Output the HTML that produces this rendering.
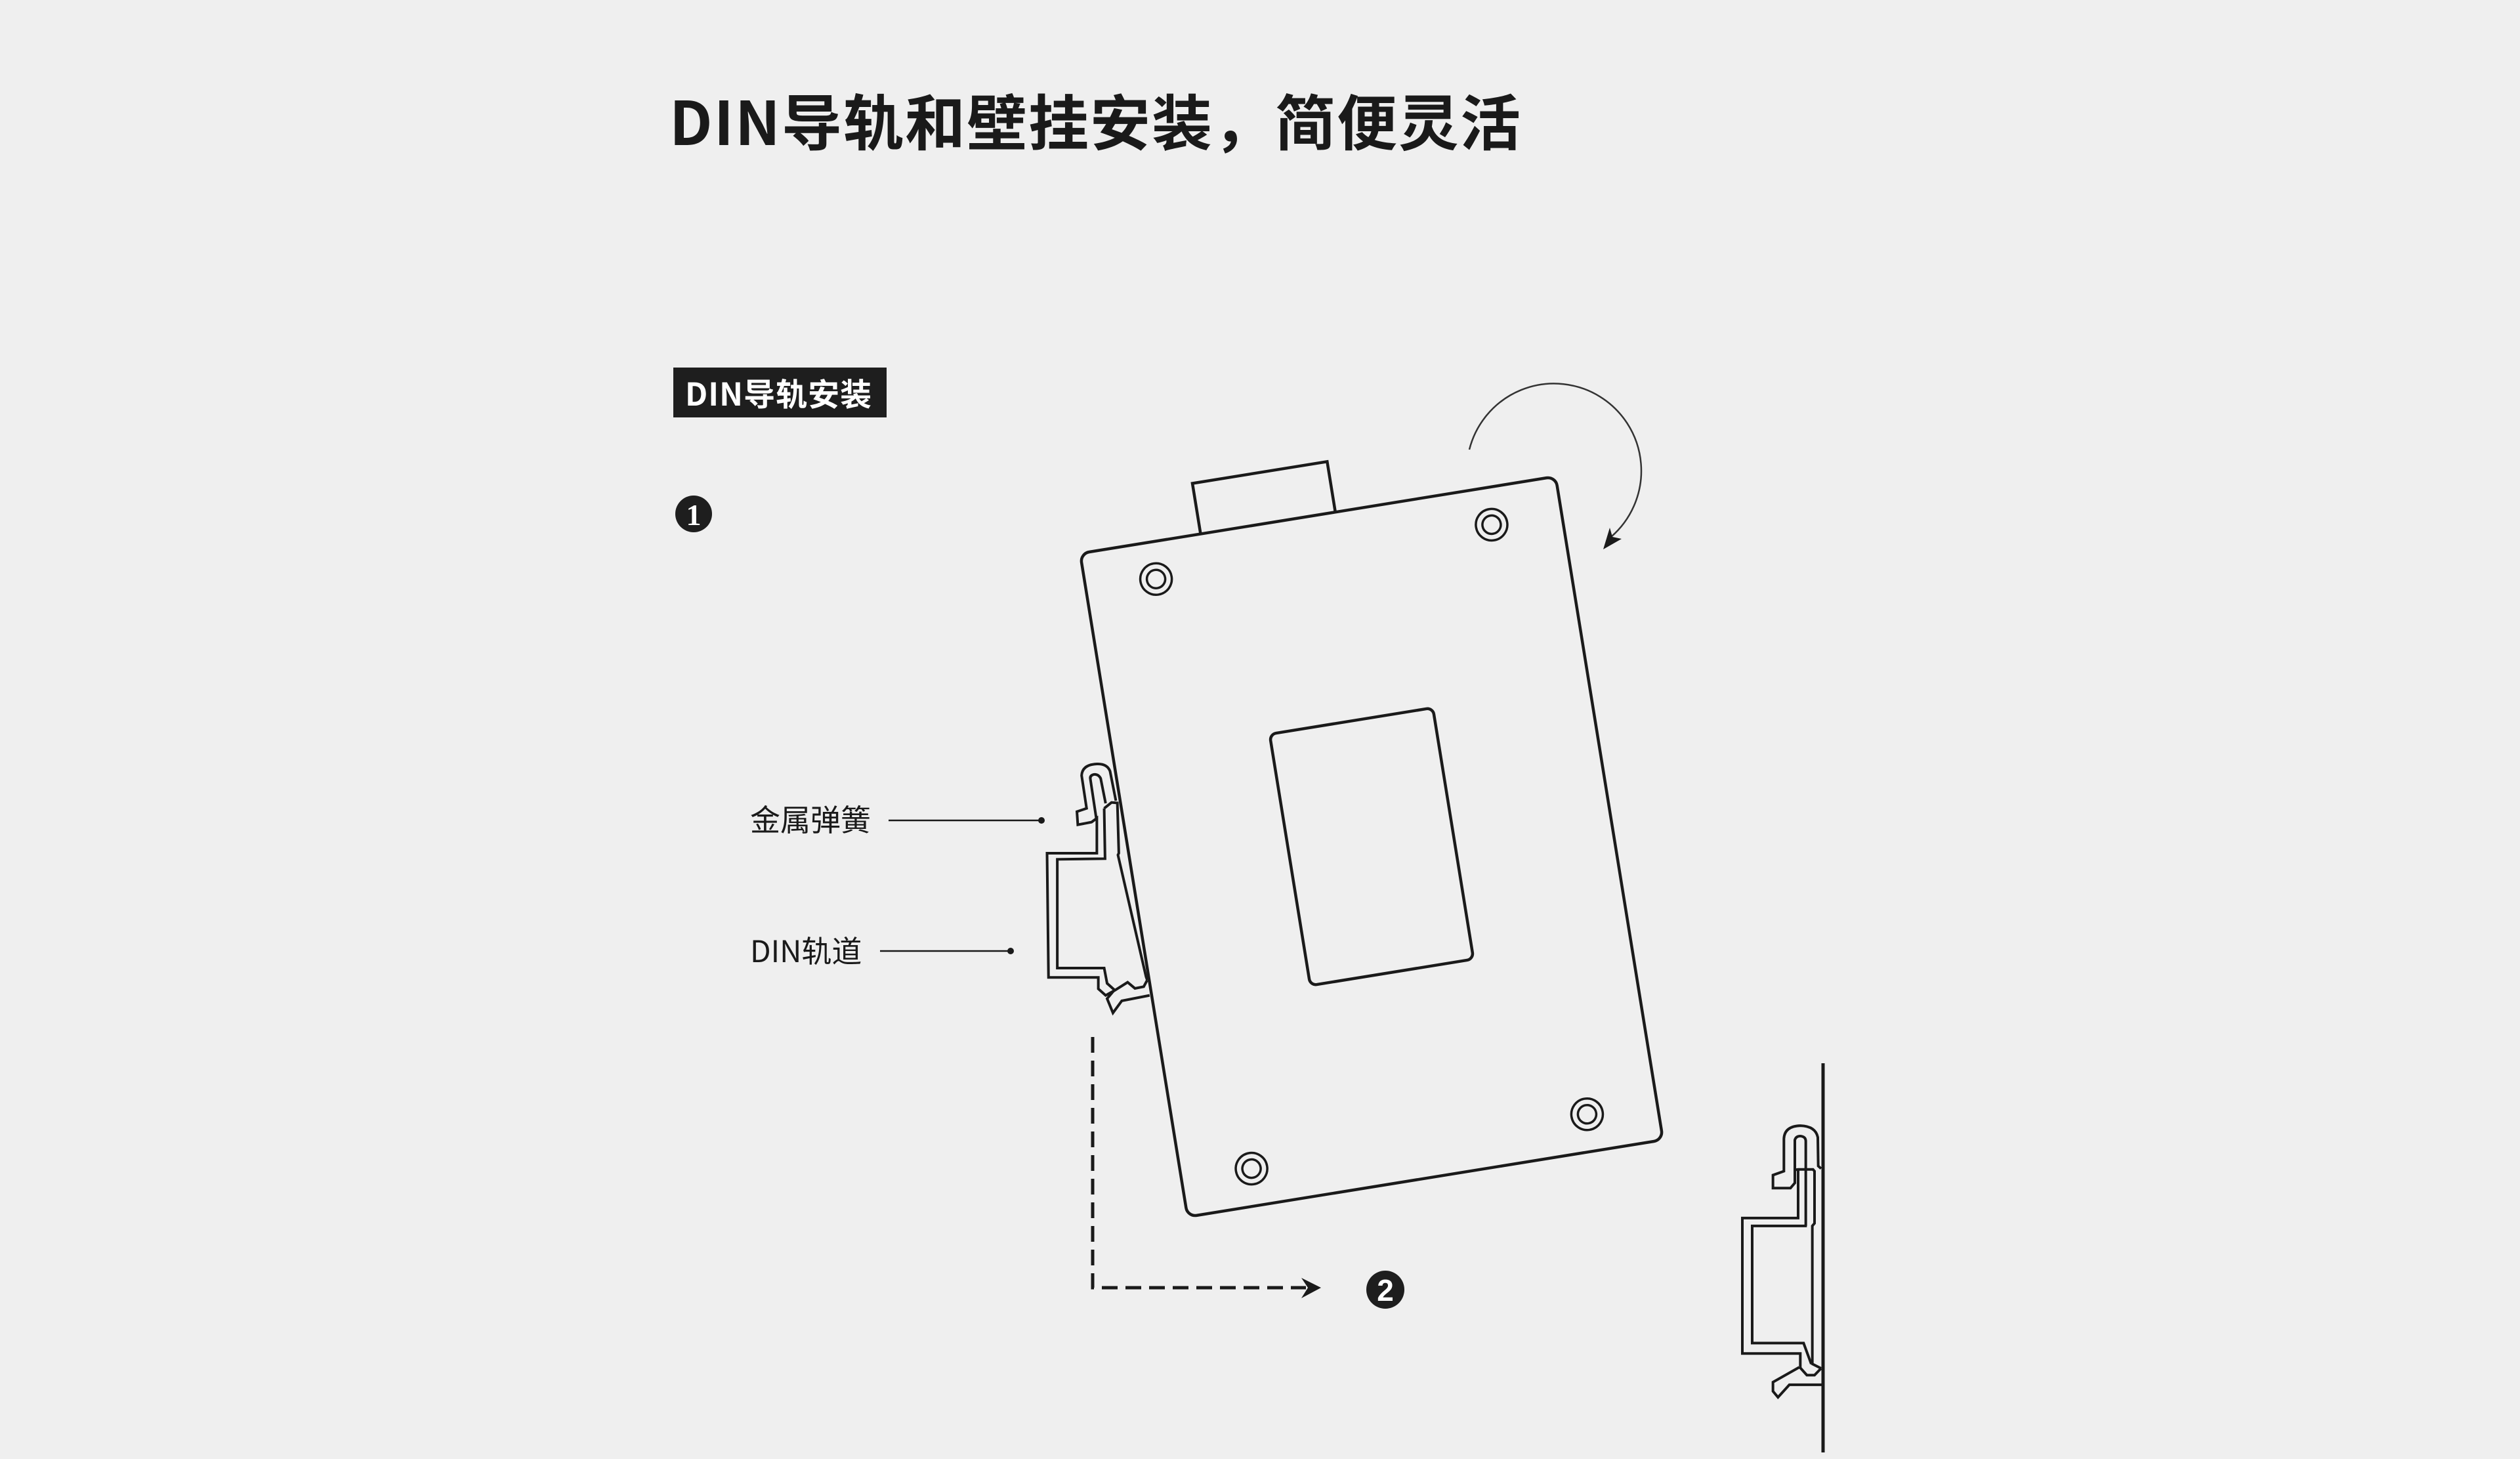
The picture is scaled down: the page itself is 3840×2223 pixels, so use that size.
<!DOCTYPE html>
<html><head><meta charset="utf-8">
<style>
html,body{margin:0;padding:0;}
body{width:3840px;height:2223px;background:#efefef;position:relative;overflow:hidden;font-family:"Liberation Sans","Noto Sans CJK SC",sans-serif;color:#1a1a1a;}
.t{position:absolute;white-space:nowrap;}
</style></head><body>
<div class="t" style="left:1020px;top:122px;font-size:92px;font-weight:bold;letter-spacing:2px;line-height:120px;font-family:'Noto Sans CJK SC',sans-serif;">DIN导轨和壁挂安装，简便灵活</div>
<div style="position:absolute;left:1026px;top:560px;width:325px;height:76px;background:#1e1e1e;"></div>
<div class="t" style="left:1044px;top:565px;font-size:48px;letter-spacing:1px;line-height:64px;font-weight:bold;color:#fff;font-family:'Noto Sans CJK SC',sans-serif;">DIN导轨安装</div>
<div class="t" style="left:1143px;top:1215px;font-size:46px;line-height:64px;font-family:'Noto Sans CJK SC',sans-serif;">金属弹簧</div>
<div class="t" style="left:1143px;top:1415px;font-size:46px;line-height:64px;font-family:'Noto Sans CJK SC',sans-serif;">DIN轨道</div>
<svg width="3840" height="2223" style="position:absolute;left:0;top:0" xmlns="http://www.w3.org/2000/svg">
<circle cx="1057" cy="783" r="28" fill="#1e1e1e"/>
<text x="1057" y="800" font-size="46" font-weight="bold" fill="#fff" text-anchor="middle" font-family="Liberation Serif,serif">1</text>
<circle cx="2111" cy="1965" r="29" fill="#1e1e1e"/>
<text x="2111" y="1982" font-size="46" font-weight="bold" fill="#fff" text-anchor="middle" font-family="Liberation Sans,sans-serif">2</text>
<line x1="1354" y1="1250" x2="1587" y2="1250" stroke="#1a1a1a" stroke-width="2.5"/>
<circle cx="1587" cy="1250" r="5" fill="#1a1a1a"/>
<line x1="1341" y1="1449" x2="1540" y2="1449" stroke="#1a1a1a" stroke-width="2.5"/>
<circle cx="1540" cy="1449" r="5" fill="#1a1a1a"/>
<g transform="translate(2090,1290) rotate(-9.2)" fill="none" stroke="#1a1a1a" stroke-width="4.5">
<polyline points="-181,-512 -181,-590 27,-590 27,-512"/>
<rect x="-367" y="-512" width="734" height="1024" rx="14" fill="#efefef"/>
<rect x="-126" y="-194" width="252" height="388" rx="10"/>
<g stroke-width="3.5">
<circle cx="-259" cy="-455" r="24"/><circle cx="-259" cy="-455" r="14"/>
<circle cx="259" cy="-455" r="24"/><circle cx="259" cy="-455" r="14"/>
<circle cx="-259" cy="455" r="24"/><circle cx="-259" cy="455" r="14"/>
<circle cx="259" cy="455" r="24"/><circle cx="259" cy="455" r="14"/>
</g>
</g>
<path d="M2239,685 A133,133 0 1 1 2455,818" fill="none" stroke="#333" stroke-width="2.5"/>
<polygon points="2443,837 2453,804 2457,818 2471,821" fill="#1a1a1a"/>
<path d="M1665,1580 L1665,1962 L1990,1962" fill="none" stroke="#1a1a1a" stroke-width="5" stroke-dasharray="24,12"/>
<polygon points="2013,1962 1983,1947 1993,1962 1983,1978" fill="#1a1a1a"/>
<g transform="translate(1100,1100) scale(0.4464,0.3333)" fill="none" stroke="#1a1a1a" stroke-width="4">
<path vector-effect="non-scaling-stroke" d="M1345,360 L1325,225 Q1315,190 1280,192 Q1230,195 1228,245 L1245,395 L1212,410 L1215,470 L1262,458 L1280,440 L1280,600 L1110,600 L1115,1168 L1285,1168 L1285,1220 L1310,1250 L1340,1228 L1385,1190 L1410,1218 L1440,1210 L1452,1180"/>
<path vector-effect="non-scaling-stroke" d="M1310,372 L1293,258 Q1285,238 1270,240 Q1255,245 1258,262 L1278,440"/>
<path vector-effect="non-scaling-stroke" d="M1305,395 L1308,625 L1145,628 L1145,1125 L1305,1125 L1315,1195 L1340,1225"/>
<path vector-effect="non-scaling-stroke" d="M1305,395 L1330,368 L1350,370 L1355,600 L1352,608 L1448,1165 L1452,1180"/>
<path vector-effect="non-scaling-stroke" d="M1340,1225 L1315,1265 L1335,1330 L1365,1275 L1460,1250"/>
</g>
<line x1="2778" y1="1620" x2="2778" y2="2213" stroke="#1a1a1a" stroke-width="5"/>
<g transform="translate(2600,1600) scale(0.3333,0.3968)" fill="none" stroke="#1a1a1a" stroke-width="4">
<path vector-effect="non-scaling-stroke" d="M525,455 L512,445 L510,335 Q500,292 430,290 Q358,292 355,340 L355,465 L305,480 L305,530 L385,530 L405,510 L405,345 Q410,330 430,330 Q455,332 455,350 L455,675"/>
<path vector-effect="non-scaling-stroke" d="M405,460 L420,458 L488,458 L495,465 L495,665 L485,675 L485,1205 L525,1222"/>
<path vector-effect="non-scaling-stroke" d="M420,458 L420,645 L165,645 L165,1165 L430,1165 L430,1220 L460,1248 L495,1248 L525,1222"/>
<path vector-effect="non-scaling-stroke" d="M460,675 L210,675 L210,1125 L445,1125 L480,1205"/>
<path vector-effect="non-scaling-stroke" d="M425,1218 L305,1275 L305,1310 L328,1333 L380,1285 L528,1285"/>
</g>
</svg>
</body></html>
